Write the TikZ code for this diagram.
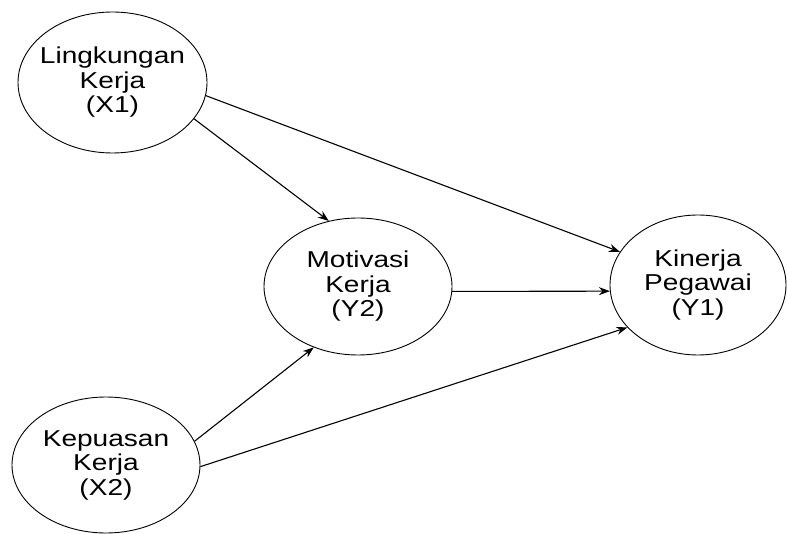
\documentclass[tikz,border=0pt]{standalone}
\usepackage{fontspec}
\setmainfont{Liberation Sans}[FakeStretch=1.22]
\usetikzlibrary{arrows.meta,shapes.geometric}
\begin{document}
\begin{tikzpicture}[x=1pt,y=1pt,
  latent/.style={ellipse,draw=black,line width=0.9pt,inner ysep=0pt,inner xsep=-20pt,align=center,
    font=\fontsize{23}{24.5}\selectfont},
  path/.style={line width=1.1pt,-{Stealth[length=11pt,width=8pt]}}]
\useasboundingbox (0,0) rectangle (787,-534);
\node[latent,minimum width=189pt,minimum height=141pt] (x1) at (112.5,-82.5) {Lingkungan\\Kerja\\(X1)};
\node[latent,minimum width=188pt,minimum height=137pt] (y2) at (358,-286.5) {Motivasi\\Kerja\\(Y2)};
\node[latent,minimum width=176pt,minimum height=140pt] (y1) at (698,-285) {Kinerja\\Pegawai\\(Y1)};
\node[latent,minimum width=188pt,minimum height=136pt] (x2) at (106,-465) {Kepuasan\\Kerja\\(X2)};
\draw[path] (x1.-24.1) -- (y2.114.6);
\draw[path] (x1.-8.9) -- (y1.157.2);
\draw[path] (y2.-3.3) -- (y1.184.5);
\draw[path] (x2.15.4) -- (y2.-126.4);
\draw[path] (x2.-1.8) -- (y1.211.9);
\end{tikzpicture}
\end{document}
